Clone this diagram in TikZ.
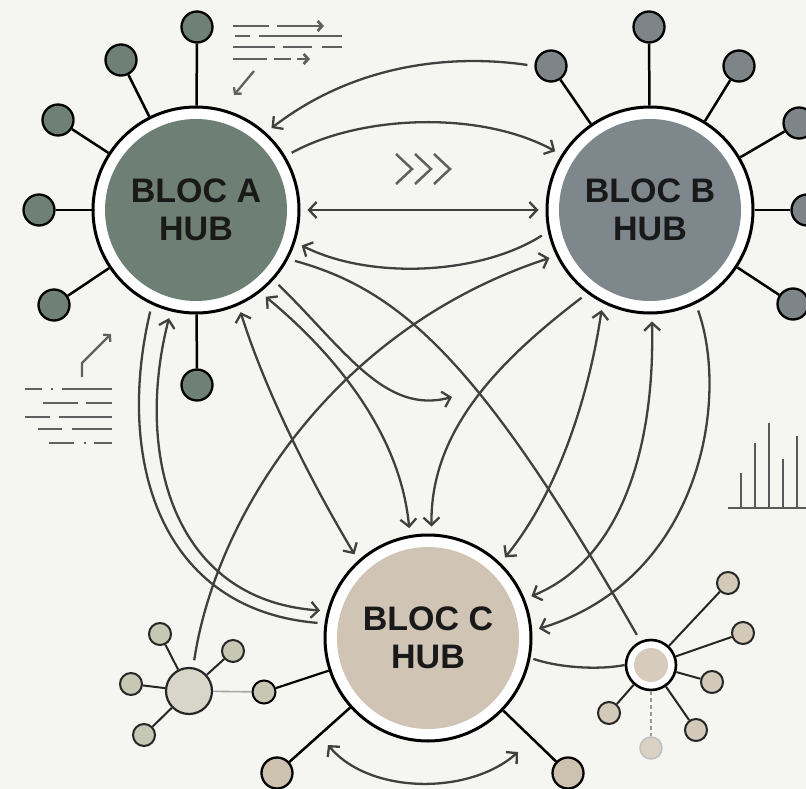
\documentclass[tikz,border=0pt]{standalone}
\usepackage{fontspec}
\setmainfont{Liberation Sans}
\usetikzlibrary{arrows.meta}
\definecolor{bg}{HTML}{F5F5F2}
\definecolor{colA}{HTML}{6E8076}
\definecolor{colB}{HTML}{7D878C}
\definecolor{colC}{HTML}{D0C5B5}
\definecolor{satA}{HTML}{6F8078}
\definecolor{satB}{HTML}{7E8588}
\definecolor{satC}{HTML}{CDC1B0}
\definecolor{colL}{HTML}{D8D6C8}
\definecolor{satL}{HTML}{C6C8B4}
\definecolor{colR}{HTML}{D6CBBD}
\definecolor{satR}{HTML}{D3C9B9}
\definecolor{clr}{HTML}{404040}
\definecolor{decol}{HTML}{606060}
\newcommand\hubfont{\fontsize{34}{38}\selectfont\bfseries}
\begin{document}
\begin{tikzpicture}[x=1pt,y=-1pt,
  >={Straight Barb[length=7.5pt,width=16pt]},
  hub/.style={circle, fill=white, draw=black, line width=3pt, minimum size=206pt, inner sep=0pt,
    align=center, font=\hubfont, text=black!90,
    path picture={\fill[#1] (path picture bounding box.center) circle[radius=91pt];}},
  sat/.style={circle, draw=black, line width=2.3pt, minimum size=31pt, inner sep=0pt, fill=#1},
  smallsat/.style={circle, draw=black!85, line width=2pt, minimum size=22pt, inner sep=0pt, fill=#1},
  spoke/.style={draw=black, line width=2.5pt},
  conn/.style={draw=clr, line width=2.3pt, line join=round, shorten >=7pt, shorten <=7pt},
  deco/.style={draw=decol, line width=2.8pt},
  smalltip/.style={-{Straight Barb[length=4.5pt,width=10pt]}}
]
\fill[bg] (0,0) rectangle (806,789);
\useasboundingbox (0,0) rectangle (806,789);

% hubs
\node[hub=colA] (A) at (196,210) {BLOC A\\HUB};
\node[hub=colB] (B) at (650,210) {BLOC B\\HUB};
\node[hub=colC] (C) at (428,638) {BLOC C\\HUB};

% satellites A
\node[sat=satA] (a1) at (197,27) {};
\node[sat=satA] (a2) at (121,60) {};
\node[sat=satA] (a3) at (58,120) {};
\node[sat=satA] (a4) at (39,210) {};
\node[sat=satA] (a5) at (54,305) {};
\node[sat=satA] (a6) at (197,385) {};
\foreach \s in {a1,a2,a3,a4,a5,a6} \draw[spoke] (\s) -- (A);

% satellites B
\node[sat=satB] (b1) at (551,66) {};
\node[sat=satB] (b2) at (649,27) {};
\node[sat=satB] (b3) at (739,66) {};
\node[sat=satB] (b4) at (799,123) {};
\node[sat=satB] (b5) at (807,210) {};
\node[sat=satB] (b6) at (793,304) {};
\foreach \s in {b1,b2,b3,b4,b5,b6} \draw[spoke] (\s) -- (B);

% satellites C
\node[sat=satC] (c1) at (277,773) {};
\node[sat=satC] (c2) at (568,773) {};
\node[smallsat=satL, draw=black, minimum size=23pt] (c3) at (264,692) {};
\draw[spoke] (c1) -- (C);
\draw[spoke] (c2) -- (C);
\draw[spoke, line width=2.2pt] (c3) -- (C);

% left cluster
\node[circle, draw=black!85, line width=2.2pt, fill=colL, minimum size=46pt, inner sep=0pt] (L) at (189,691) {};
\node[smallsat=satL] (l1) at (160,634) {};
\node[smallsat=satL] (l2) at (233,651) {};
\node[smallsat=satL] (l3) at (131,684) {};
\node[smallsat=satL] (l4) at (144,735) {};
\foreach \s in {l1,l2,l3,l4} \draw[draw=black!85, line width=2pt] (\s) -- (L);
\draw[draw=black!35, line width=1.6pt] (L) -- (c3);

% right cluster
\node[circle, fill=white, draw=black, line width=2.6pt, minimum size=50pt, inner sep=0pt,
  path picture={\fill[colR] (path picture bounding box.center) circle[radius=17pt];}] (R) at (651,665) {};
\node[smallsat=satR] (r1) at (728,583) {};
\node[smallsat=satR] (r2) at (743,633) {};
\node[smallsat=satR] (r3) at (712,682) {};
\node[smallsat=satR] (r4) at (696,730) {};
\node[smallsat=satR] (r5) at (609,713) {};
\node[circle, draw=black!25, line width=1.5pt, fill=satR!85, minimum size=22pt, inner sep=0pt] (r6) at (651,748) {};
\foreach \s in {r1,r2,r3,r4,r5} \draw[draw=black!85, line width=2pt] (\s) -- (R);
\draw[draw=black!40, line width=2pt, dash pattern=on 4pt off 3pt] (R) -- (r6);

% connectors top
\draw[conn,->] (b1.west) .. controls (460,55) and (360,60) .. (A.48);
\draw[conn,->] (A.31) .. controls (360,115) and (480,110) .. (B.148);
\draw[conn,<->] (A.0) -- (B.180);
\draw[conn,->] (B.192) .. controls (480,275) and (370,280) .. (A.-18);

% A to right cluster
\draw[conn] (A.-28) .. controls (400,290) and (480,360) .. (R.114);
% left cluster to B
\draw[conn,->] (L.80) .. controls (215,520) and (330,330) .. (B.206);
% A to free end
\coordinate (f4) at (452,397);
\draw[conn,->,shorten >=0pt] (A.-42) .. controls (345,350) and (385,415) .. (f4);
% A to C
\draw[conn,<->] (A.-52) .. controls (330,350) and (400,430) .. (C.100);
\draw[conn,<->] (A.-66) .. controls (265,390) and (310,480) .. (C.132);
\draw[conn] (A.245) .. controls (115,460) and (160,610) .. (C.172);
\draw[conn,<->] (A.256) .. controls (135,450) and (170,600) .. (C.165);
% B to C
\draw[conn,->] (B.233) .. controls (500,360) and (430,430) .. (C.88);
\draw[conn,<->] (B.243) .. controls (590,390) and (560,490) .. (C.46);
\draw[conn,<->] (B.-89) .. controls (655,450) and (620,560) .. (C.22);
\draw[conn,->] (B.-64) .. controls (730,400) and (700,580) .. (C.4);
% C bottom
\coordinate (cb1) at (328,745);
\coordinate (cb2) at (518,752);
\draw[conn,<->,shorten >=0pt,shorten <=0pt] (cb1) .. controls (370,795) and (470,795) .. (cb2);
% C to right cluster
\draw[conn, shorten >=0pt, shorten <=3pt] (C.-11) .. controls (560,668) and (600,670) .. (R.west);

% top-left decoration
\draw[deco] (233,26) -- (269,26);
\draw[deco,smalltip] (277,26) -- (324,26);
\draw[deco] (235,36) -- (250,36);
\draw[deco] (259,36) -- (342,36);
\draw[deco] (233,47) -- (275,47);
\draw[deco] (283,47) -- (312,47);
\draw[deco] (322,47) -- (342,47);
\draw[deco] (233,59) -- (267,59);
\draw[deco] (274,59) -- (291,59);
\draw[deco,smalltip] (297,59) -- (310,59);
\draw[deco,smalltip, line width=2.3pt] (254,71) -- (234,95);

% left decoration
\draw[deco,smalltip, line width=2.3pt] (82,377) -- (82,363) -- (111,334);
\draw[deco] (25,389) -- (42,389);
\draw[deco] (51,389) -- (53,389);
\draw[deco] (62,389) -- (112,389);
\draw[deco] (43,403) -- (78,403);
\draw[deco] (86,403) -- (112,403);
\draw[deco] (25,417) -- (50,417);
\draw[deco] (59,417) -- (112,417);
\draw[deco] (38,429) -- (62,429);
\draw[deco] (72,429) -- (112,429);
\draw[deco] (49,443) -- (74,443);
\draw[deco] (84,443) -- (86,443);
\draw[deco] (94,443) -- (112,443);

% chevrons
\foreach \x in {396,415,434}
  \draw[deco, line width=2.5pt] (\x,154) -- (\x+16,169) -- (\x,184);

% bar chart
\draw[deco, draw=black!65] (728,508) -- (806,508);
\foreach \x/\t in {741/473,755/443,769/423,783/459,797/436}
  \draw[deco, draw=black!65] (\x,508) -- (\x,\t);
\end{tikzpicture}
\end{document}
